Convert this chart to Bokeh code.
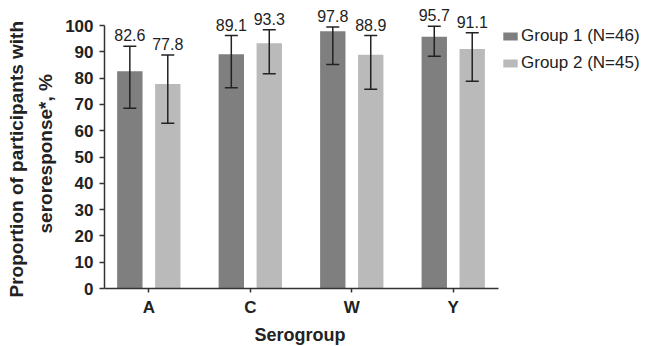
import numpy as np
from bokeh.plotting import figure
from bokeh.models import (ColumnDataSource, Whisker, TeeHead, Legend, LegendItem,
                          Range1d, FixedTicker, Title)
from bokeh.core.properties import value
from bokeh.embed import file_html
from bokeh.resources import INLINE

categories = ["A", "C", "W", "Y"]
group_names = ["Group 1 (N=46)", "Group 2 (N=45)"]
g1 = [82.6, 89.1, 97.8, 95.7]
g1_lo = [68.5, 76.3, 85.2, 88.3]
g1_hi = [92.1, 96.2, 99.4, 99.7]
g2 = [77.8, 93.3, 88.9, 91.1]
g2_lo = [62.8, 81.7, 75.8, 78.8]
g2_hi = [88.8, 98.4, 96.2, 97.2]
y_ticks = list(range(0, 101, 10))
y_label_lines = ["Proportion of participants with", "seroresponse*, %"]
x_label = "Serogroup"

FONT = "Liberation Sans"
DARK = "#7e7f7e"
LIGHT = "#b9bab9"
INK = "#222222"

# frame extends beyond the axes (room for labels and legend); axes are bounded
p = figure(frame_width=551, frame_height=288, output_backend="svg", toolbar_location=None,
           x_range=Range1d(-0.4366, 4.993), y_range=Range1d(0, 109.51),
           min_border_left=104, min_border_right=0, min_border_top=0,
           min_border_bottom=58)
p.outline_line_color = None
p.xgrid.visible = False
p.ygrid.visible = False
p.background_fill_color = "white"
p.border_fill_color = "white"

idx = np.arange(len(categories))
off = 0.187
width = 0.25

src1 = ColumnDataSource(dict(x=idx - off, top=g1, lo=g1_lo, hi=g1_hi,
                             lab=[f"{v:.1f}" for v in g1]))
src2 = ColumnDataSource(dict(x=idx + off, top=g2, lo=g2_lo, hi=g2_hi,
                             lab=[f"{v:.1f}" for v in g2]))

r1 = p.vbar(x="x", top="top", width=width, source=src1, fill_color=DARK, line_color=None)
r2 = p.vbar(x="x", top="top", width=width, source=src2, fill_color=LIGHT, line_color=None)

for s in (src1, src2):
    w = Whisker(base="x", lower="lo", upper="hi", source=s, dimension="height",
                line_color=INK, line_width=1.5, level="annotation",
                upper_head=TeeHead(size=13, line_color=INK, line_width=1.5),
                lower_head=TeeHead(size=13, line_color=INK, line_width=1.5))
    p.add_layout(w)
    p.text(x="x", y="hi", text="lab", source=s, text_align="center",
           text_baseline="bottom", y_offset=-5, text_font=value(FONT),
           text_font_size="16px", text_color=INK)

# axes
p.xaxis.ticker = FixedTicker(ticks=list(idx))
p.xaxis.major_label_overrides = {int(i): c for i, c in zip(idx, categories)}
p.xaxis.bounds = (-0.4366, 3.446)
p.yaxis.ticker = FixedTicker(ticks=y_ticks)
p.yaxis.bounds = (0, 100)
for ax in (p.xaxis[0], p.yaxis[0]):
    ax.axis_line_color = "#333333"
    ax.axis_line_width = 1.5
    ax.major_tick_line_color = "#333333"
    ax.major_tick_line_width = 1.5
    ax.major_tick_in = 0
    ax.major_tick_out = 5
    ax.minor_tick_line_color = None
    ax.major_label_text_font = FONT
    ax.major_label_text_font_style = "bold"
    ax.major_label_text_font_size = "17px"
    ax.major_label_text_color = INK

p.xaxis.major_tick_out = 4
p.xaxis.major_label_standoff = 5
p.yaxis.major_label_standoff = 6

# axis titles (placed as titles so they centre on the bounded axes)
p.add_layout(Title(text=y_label_lines[1], align="left", offset=55, standoff=13,
                   text_font=FONT, text_font_style="bold", text_font_size="19px",
                   text_color=INK), "left")
p.add_layout(Title(text=y_label_lines[0], align="left", offset=-9, standoff=0,
                   text_font=FONT, text_font_style="bold", text_font_size="19px",
                   text_color=INK), "left")
p.add_layout(Title(text=x_label, align="left", offset=150, standoff=7,
                   text_font=FONT, text_font_style="bold", text_font_size="18px",
                   text_color=INK), "below")

legend = Legend(items=[LegendItem(label=group_names[0], renderers=[r1]),
                       LegendItem(label=group_names[1], renderers=[r2])],
                location=(397, 215), margin=0, padding=2, spacing=7,
                glyph_width=18, glyph_height=10, label_height=16,
                label_standoff=2, label_text_font=FONT,
                label_text_font_size="17px", label_text_color=INK,
                border_line_color=None, background_fill_alpha=0)
p.add_layout(legend, "center")

open("out.html", "w").write(file_html(p, INLINE))
